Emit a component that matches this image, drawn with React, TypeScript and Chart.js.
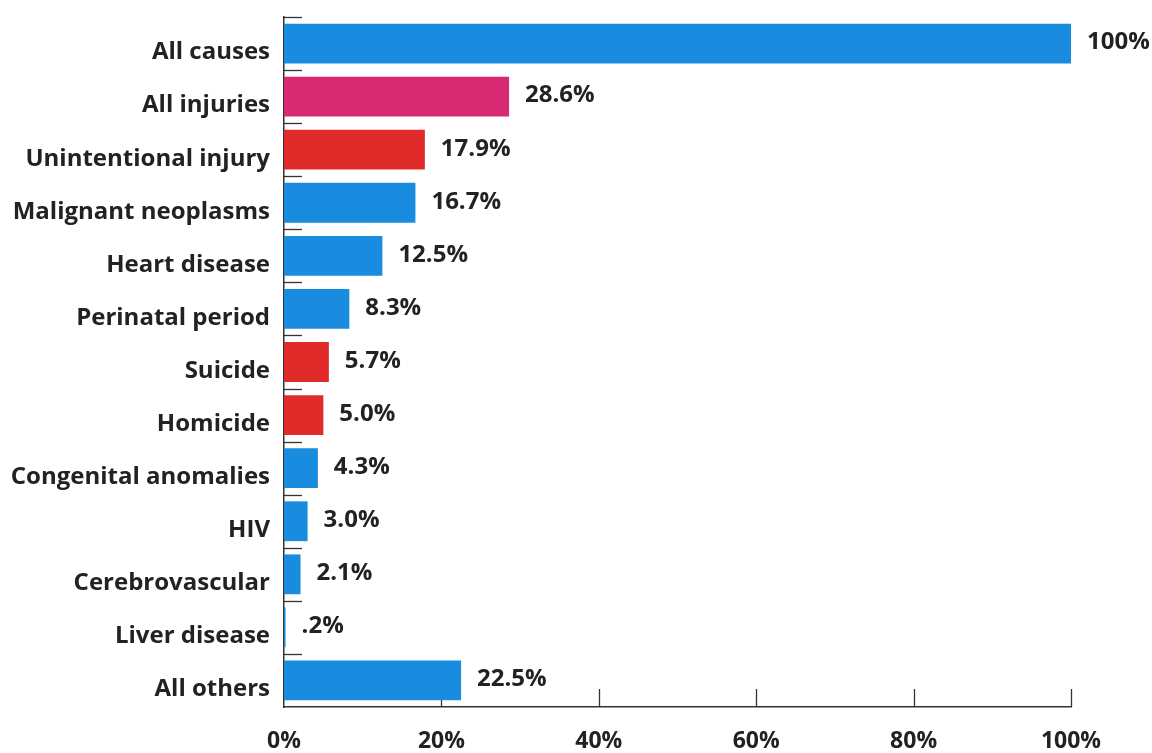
import React, { useEffect, useRef } from "react";
import { Chart, registerables } from "chart.js";

Chart.register(...registerables);

const categories = [
  "All causes",
  "All injuries",
  "Unintentional injury",
  "Malignant neoplasms",
  "Heart disease",
  "Perinatal period",
  "Suicide",
  "Homicide",
  "Congenital anomalies",
  "HIV",
  "Cerebrovascular",
  "Liver disease",
  "All others",
];
const values = [100, 28.6, 17.9, 16.7, 12.5, 8.3, 5.7, 5.0, 4.3, 3.0, 2.1, 0.2, 22.5];
const valueLabels = ["100%", "28.6%", "17.9%", "16.7%", "12.5%", "8.3%", "5.7%", "5.0%", "4.3%", "3.0%", "2.1%", ".2%", "22.5%"];
const groups = ["all", "injury", "injuryPart", "other", "other", "other", "injuryPart", "injuryPart", "other", "other", "other", "other", "other"];
const xTicks = [0, 20, 40, 60, 80, 100];

const groupColors: Record<string, string> = {
  all: "#1a8ce0",
  injury: "#d82a72",
  injuryPart: "#e12a2a",
  other: "#1a8ce0",
};

const FONT = "'Open Sans', 'DejaVu Sans', sans-serif";
const TEXT = "#222222";

const tickPlugin = {
  id: "innerTicks",
  beforeDatasetsDraw(chart: any) {
    const { ctx, chartArea, scales } = chart;
    const x = scales.x;
    const y = scales.y;
    ctx.save();
    ctx.strokeStyle = "#333333";
    ctx.lineWidth = 1.3;
    xTicks.forEach((v) => {
      if (v === 0) return;
      const px = Math.round(x.getPixelForValue(v)) + 0.5;
      ctx.beginPath();
      ctx.moveTo(px, chartArea.bottom);
      ctx.lineTo(px, chartArea.bottom - 18);
      ctx.stroke();
    });
    const n = categories.length;
    const half = (y.getPixelForValue(1) - y.getPixelForValue(0)) / 2;
    for (let i = 0; i < n; i++) {
      const c = y.getPixelForValue(i);
      const py = Math.round(c - half) + 0.5;
      ctx.beginPath();
      ctx.moveTo(chartArea.left, py);
      ctx.lineTo(chartArea.left + 18, py);
      ctx.stroke();
    }
    ctx.restore();
  },
  afterDatasetsDraw(chart: any) {
    const { ctx } = chart;
    const meta = chart.getDatasetMeta(0);
    ctx.save();
    ctx.fillStyle = TEXT;
    ctx.font = `bold 24px ${FONT}`;
    ctx.textBaseline = "middle";
    ctx.textAlign = "left";
    meta.data.forEach((bar: any, i: number) => {
      ctx.fillText(valueLabels[i], bar.x + 16, bar.y - 1);
    });
    ctx.restore();
  },
};

export default function App() {
  const ref = useRef<HTMLCanvasElement>(null);
  useEffect(() => {
    if (!ref.current) return;
    const chart = new Chart(ref.current, {
      type: "bar",
      data: {
        labels: categories,
        datasets: [
          {
            data: values,
            backgroundColor: groups.map((g) => groupColors[g]),
            barPercentage: 0.75,
            categoryPercentage: 1,
          },
        ],
      },
      options: {
        indexAxis: "y",
        animation: false,
        responsive: false,
        layout: { padding: { top: 17, right: 81, left: 0, bottom: 0 } },
        plugins: { legend: { display: false }, tooltip: { enabled: false } },
        scales: {
          y: {
            type: "category",
            afterFit: (s: any) => {
              s.width = 284;
              s.paddingTop = 0;
              s.paddingBottom = 0;
            },
            grid: { display: false, drawTicks: false },
            border: { display: true, color: "#333333", width: 1.5 },
            ticks: {
              color: TEXT,
              font: { family: FONT, size: 24, weight: "bold" },
              padding: 14,
              labelOffset: 9,
            },
          },
          x: {
            type: "linear",
            min: 0,
            max: 100,
            afterFit: (s: any) => {
              s.height = 46;
              s.paddingLeft = 0;
              s.paddingRight = 0;
            },
            afterBuildTicks: (s: any) => {
              s.ticks = xTicks.map((v) => ({ value: v }));
            },
            grid: { display: false, drawTicks: false },
            border: { display: true, color: "#333333", width: 1.5 },
            ticks: {
              color: TEXT,
              font: { family: FONT, size: 23, weight: "bold" },
              padding: 21,
              maxRotation: 0,
              callback: (v: any) => `${v}%`,
            },
          },
        },
      },
      plugins: [tickPlugin],
    });
    return () => chart.destroy();
  }, []);
  return (
    <div style={{ position: "absolute", left: 0, top: 0, width: 1152, height: 753, background: "#fff" }}>
      <canvas ref={ref} width={1152} height={753} />
    </div>
  );
}
